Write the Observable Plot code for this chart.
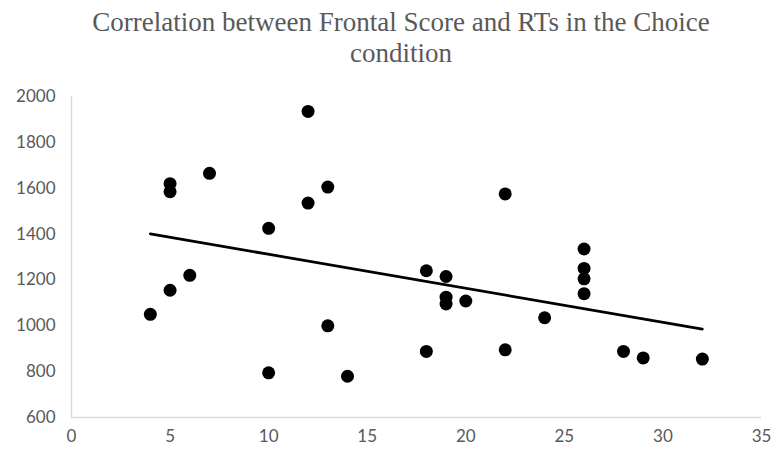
<!DOCTYPE html>
<html>
<head>
<meta charset="utf-8">
<script src="https://cdn.jsdelivr.net/npm/d3@7"></script>
<script src="https://cdn.jsdelivr.net/npm/@observablehq/plot@0.6"></script>
<style>
  html, body { margin: 0; padding: 0; background: #fff; }
  #chart { width: 772px; }
  .title {
    font-family: "Liberation Serif", "Times New Roman", serif;
    font-size: 27px;
    line-height: 31px;
    color: #595959;
    text-align: center;
    height: 70px;
    padding-left: 30px;
    padding-top: 7px;
    box-sizing: border-box;
  }
</style>
</head>
<body>
<div id="chart">
  <div class="title">Correlation between Frontal Score and RTs in the Choice<br>condition</div>
</div>
<script>
// Frontal score (x) and reaction time in ms (y) per participant
const frontalScore = [4, 5, 5, 5, 6, 7, 10, 10, 12, 12, 13, 13, 14, 18, 18, 19, 19, 19, 20, 22, 22, 24, 26, 26, 26, 26, 28, 29, 32];
const reactionTime = [1050, 1620, 1585, 1155, 1220, 1665, 1425, 795, 1935, 1535, 1605, 1000, 780, 1240, 888, 1215, 1125, 1095, 1108, 1575, 895, 1035, 1335, 1250, 1205, 1140, 888, 860, 855];

const xTicks = [0, 5, 10, 15, 20, 25, 30, 35];
const yTicks = [600, 800, 1000, 1200, 1400, 1600, 1800, 2000];

const data = frontalScore.map((x, i) => ({x, y: reactionTime[i]}));

const plot = Plot.plot({
  width: 772,
  height: 381,
  marginTop: 26,
  marginBottom: 34,
  marginLeft: 71,
  marginRight: 11,
  style: {fontFamily: "Lato, sans-serif", fontSize: "17px", color: "#595959", background: "#fff"},
  x: {domain: [0, 35], ticks: xTicks, tickSize: 0, tickPadding: 12, label: null},
  y: {domain: [600, 2000], ticks: yTicks, tickFormat: "d", tickSize: 0, tickPadding: 16, label: null},
  marks: [
    Plot.ruleY([600], {stroke: "#d9d9d9", strokeWidth: 1.5}),
    Plot.ruleX([0], {stroke: "#d9d9d9", strokeWidth: 1.5}),
    Plot.linearRegressionY(data, {x: "x", y: "y", ci: 0, stroke: "#000", strokeWidth: 2.75}),
    Plot.dot(data, {x: "x", y: "y", r: 6.5, fill: "#000", stroke: "none"})
  ]
});

document.getElementById("chart").appendChild(plot);
</script>
</body>
</html>
